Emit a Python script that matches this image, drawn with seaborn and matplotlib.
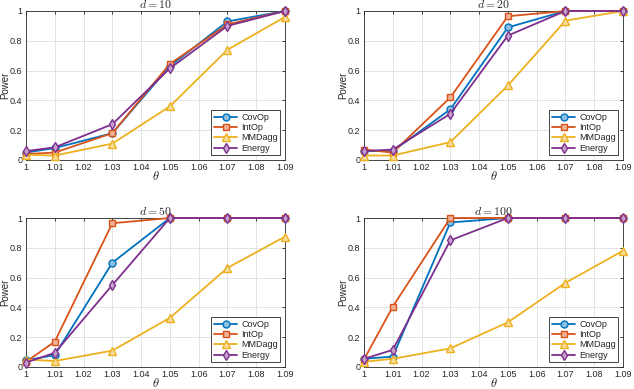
import numpy as np
import pandas as pd
import matplotlib
matplotlib.use("Agg")
import matplotlib.pyplot as plt
import seaborn as sns

# data
theta = [1, 1.01, 1.03, 1.05, 1.07, 1.09]
methods = ["CovOp", "IntOp", "MMDagg", "Energy"]
dims = [10, 20, 50, 100]

covop_10 = [0.05, 0.08, 0.18, 0.63, 0.93, 1.0]
intop_10 = [0.04, 0.05, 0.18, 0.645, 0.91, 1.0]
mmdagg_10 = [0.035, 0.03, 0.11, 0.36, 0.74, 0.96]
energy_10 = [0.06, 0.085, 0.24, 0.615, 0.90, 1.0]

covop_20 = [0.06, 0.06, 0.34, 0.89, 1.0, 1.0]
intop_20 = [0.07, 0.05, 0.42, 0.965, 1.0, 1.0]
mmdagg_20 = [0.03, 0.03, 0.12, 0.50, 0.935, 1.0]
energy_20 = [0.06, 0.07, 0.31, 0.835, 1.0, 1.0]

covop_50 = [0.045, 0.08, 0.70, 1.0, 1.0, 1.0]
intop_50 = [0.035, 0.17, 0.965, 1.0, 1.0, 1.0]
mmdagg_50 = [0.05, 0.04, 0.11, 0.33, 0.665, 0.875]
energy_50 = [0.03, 0.095, 0.55, 1.0, 1.0, 1.0]

covop_100 = [0.055, 0.07, 0.97, 1.0, 1.0, 1.0]
intop_100 = [0.05, 0.405, 1.0, 1.0, 1.0, 1.0]
mmdagg_100 = [0.035, 0.055, 0.125, 0.30, 0.565, 0.78]
energy_100 = [0.055, 0.115, 0.85, 1.0, 1.0, 1.0]

power = {
    10: [covop_10, intop_10, mmdagg_10, energy_10],
    20: [covop_20, intop_20, mmdagg_20, energy_20],
    50: [covop_50, intop_50, mmdagg_50, energy_50],
    100: [covop_100, intop_100, mmdagg_100, energy_100],
}

# matlab default colours
colors = ["#0072BD", "#D95319", "#EDB120", "#7E2F8E"]
markers = ["o", "s", "^", "d"]

sns.set_theme(style="white")
plt.rcParams["font.family"] = ["Liberation Sans", "DejaVu Sans"]
plt.rcParams["mathtext.fontset"] = "cm"

fig = plt.figure(figsize=(6.34, 3.89), dpi=100)

# axes boxes in pixels (left, top)
W, H = 634, 389
boxes = [(26, 11), (364, 11), (26, 218), (364, 218)]
aw, ah = 259, 149

def light(c, a=0.45):
    rgb = np.array(matplotlib.colors.to_rgb(c))
    return tuple(rgb * a + (1 - a))

for d, (px, py) in zip(dims, boxes):
    ax = fig.add_axes([px / W, (H - py - ah) / H, aw / W, ah / H])
    for m, vals, c, mk in zip(methods, power[d], colors, markers):
        df = pd.DataFrame({"theta": theta, "power": vals})
        sns.lineplot(data=df, x="theta", y="power", ax=ax, color=c,
                     marker=mk, markersize=5 if mk != "^" else 5.5,
                     markerfacecolor=light(c), markeredgecolor=c,
                     markeredgewidth=1.0, linewidth=1.3, label=m,
                     clip_on=False, zorder=3)
    ax.set_xlim(1, 1.09)
    ax.set_ylim(0, 1)
    ax.set_xticks([1, 1.01, 1.02, 1.03, 1.04, 1.05, 1.06, 1.07, 1.08, 1.09])
    ax.set_xticklabels(["1", "1.01", "1.02", "1.03", "1.04", "1.05",
                        "1.06", "1.07", "1.08", "1.09"])
    ax.set_yticks([0, 0.2, 0.4, 0.6, 0.8, 1])
    ax.set_yticklabels(["0", "0.2", "0.4", "0.6", "0.8", "1"])
    ax.grid(True, color="#dedede", linewidth=0.6)
    ax.tick_params(direction="in", length=2.5, width=0.6, labelsize=6.5,
                   colors="#262626", top=True, right=True, pad=2.5)
    for s in ax.spines.values():
        s.set_color("#262626")
        s.set_linewidth(0.6)
    ax.set_xlabel(r"$\theta$", fontsize=9, labelpad=-2)
    ax.set_ylabel("Power", fontsize=7, labelpad=0, color="#262626")
    ax.set_title(r"$d = %d$" % d, fontsize=8.5, pad=2)
    leg = ax.legend(loc="lower right", fontsize=6.5, fancybox=False,
                    edgecolor="#262626", framealpha=1, handlelength=2.6,
                    borderpad=0.3, labelspacing=0.15, handletextpad=0.4,
                    borderaxespad=0.5)
    leg.get_frame().set_linewidth(0.6)
    leg.set_zorder(5)

fig.savefig("out.png", dpi=100)
